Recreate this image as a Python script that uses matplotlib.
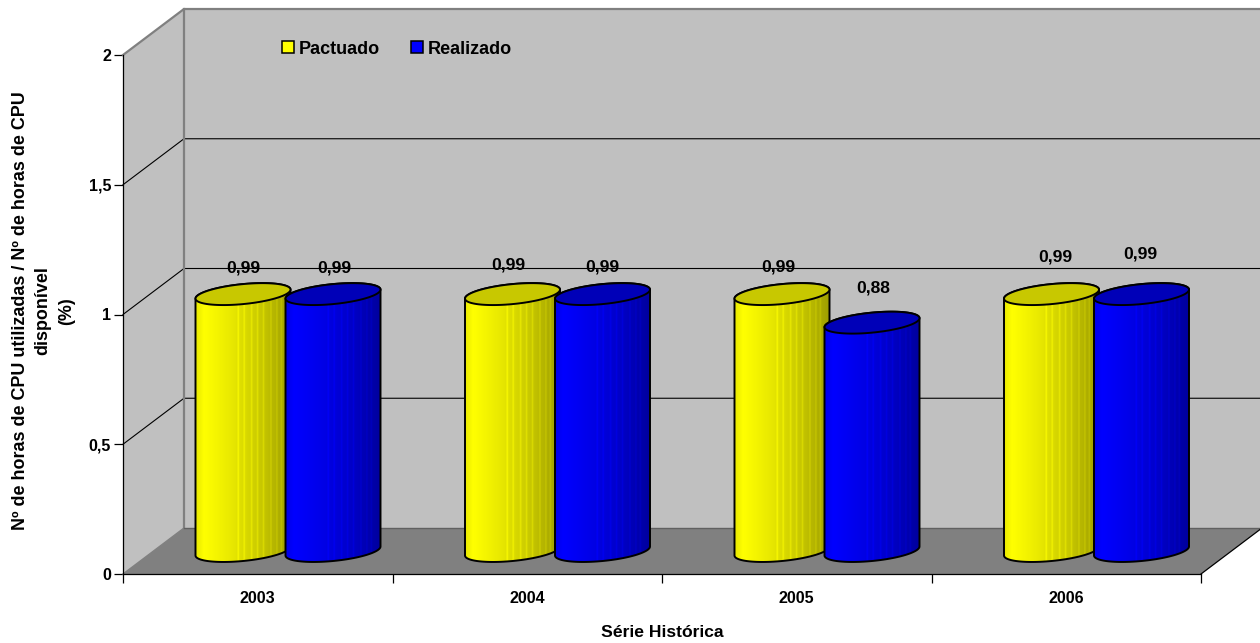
import matplotlib
matplotlib.use("Agg")
import matplotlib.pyplot as plt
import numpy as np
from matplotlib.patches import Polygon, Rectangle

plt.rcParams["font.family"] = ["Liberation Sans", "DejaVu Sans"]
plt.rcParams["font.weight"] = "bold"

years = ["2003", "2004", "2005", "2006"]
pactuado = [0.99, 0.99, 0.99, 0.99]
realizado = [0.99, 0.99, 0.88, 0.99]
y_ticks = [0, 0.5, 1, 1.5, 2]
y_tick_labels = ["0", "0,5", "1", "1,5", "2"]
pactuado_labels = ["0,99", "0,99", "0,99", "0,99"]
realizado_labels = ["0,99", "0,99", "0,88", "0,99"]

# hand placed data labels in the source chart, pixels from the bar centre top
pactuado_offsets = [(0, 26), (-4, 29), (-4, 27), (4, 37)]
realizado_offsets = [(1, 26), (0, 27), (1, 35), (-1, 40)]

W, H = 1260, 643
fig = plt.figure(figsize=(W / 100, H / 100), dpi=100)
left, right, top, bottom = 123, 1201, 55, 574
ax = fig.add_axes([left / W, 1 - bottom / H, (right - left) / W, (bottom - top) / H])
ax.set_xlim(0, 4)
ax.set_ylim(0, 2)
ax.set_autoscale_on(False)

px_x = 4 / (right - left)
px_y = 2 / (bottom - top)
depth_x = 61 * px_x
depth_y = 46 * px_y

# walls and floor
wall_kw = dict(clip_on=False, linewidth=0)
ax.add_patch(Polygon([(depth_x, depth_y), (4 + depth_x, depth_y), (4 + depth_x, 2 + depth_y), (depth_x, 2 + depth_y)],
                     facecolor="#c0c0c0", zorder=1, **wall_kw))
ax.add_patch(Polygon([(0, 0), (depth_x, depth_y), (depth_x, 2 + depth_y), (0, 2)],
                     facecolor="#c0c0c0", zorder=1, **wall_kw))
ax.add_patch(Polygon([(0, 0), (4, 0), (4 + depth_x, depth_y), (depth_x, depth_y)],
                     facecolor="#808080", zorder=1, **wall_kw))

for v in y_ticks[1:-1]:
    ax.plot([0, depth_x, 4 + depth_x], [v, v + depth_y, v + depth_y], color="black", lw=0.8, clip_on=False, zorder=2)
ax.plot([0, depth_x, 4 + depth_x], [2, 2 + depth_y, 2 + depth_y], color="#808080", lw=1.6, clip_on=False, zorder=2)
ax.plot([depth_x, depth_x], [depth_y, 2 + depth_y], color="#808080", lw=1.6, clip_on=False, zorder=2)
ax.plot([0, depth_x], [0, depth_y], color="#808080", lw=1.0, clip_on=False, zorder=2)
ax.plot([depth_x, 4 + depth_x], [depth_y, depth_y], color="#606060", lw=1.0, clip_on=False, zorder=2)
ax.plot([4, 4 + depth_x], [0, depth_y], color="black", lw=0.9, clip_on=False, zorder=2)

bar_w = 95 * px_x
base_y = 23 * px_y
ell_b = 10 * px_y
ell_s = 4.5 * px_y
shade_x = [0, 0.08, 0.35, 0.7, 1]
shade_v = [0.92, 1.0, 0.92, 0.78, 0.62]
streaks = [0.45, 0.52, 0.6, 0.66, 0.72, 0.8, 0.86, 0.92]


def cylinder(x0, value, rgb, top_color, z):
    xc = x0 + bar_w / 2
    t = np.linspace(0, np.pi, 60)
    top_y = base_y + value
    # upper half of the top rim, lower half of the base rim
    up = np.column_stack([xc + bar_w / 2 * np.cos(t), top_y + ell_b * np.sin(t) + ell_s * np.cos(t)])
    low = np.column_stack([xc + bar_w / 2 * np.cos(t + np.pi), base_y - ell_b * np.sin(t) - ell_s * np.cos(t)])
    outline = np.vstack([low, up])
    cols = np.linspace(0, 1, 64)
    shade = np.interp(cols, shade_x, shade_v)
    for s in streaks:
        shade[int(s * 63)] = min(shade[int(s * 63)] * 1.1, 1)
    img = (shade[None, :, None] * np.array(rgb)[None, None, :]).clip(0, 1)
    im = ax.imshow(img, extent=(x0, x0 + bar_w, base_y - 2 * ell_b, top_y + 2 * ell_b),
                   aspect="auto", interpolation="bilinear", zorder=z)
    body = Polygon(outline, closed=True, transform=ax.transData, facecolor="none", edgecolor="black",
                   linewidth=1.4, zorder=z + 0.1, joinstyle="round")
    ax.add_patch(body)
    im.set_clip_path(body)
    t2 = np.linspace(0, 2 * np.pi, 120)
    rim = np.column_stack([xc + bar_w / 2 * np.cos(t2), top_y + ell_b * np.sin(t2) + ell_s * np.cos(t2)])
    ax.add_patch(Polygon(rim, closed=True, facecolor=top_color, edgecolor="black", linewidth=1.4, zorder=z + 0.2))
    return xc, top_y + ell_b


first_gap = 72.5 * px_x
second_gap = first_gap + 90 * px_x
z = 3
for i, yr in enumerate(years):
    xc, ty = cylinder(i + first_gap, pactuado[i], (1, 1, 0), "#c8c800", z)
    ax.annotate(pactuado_labels[i], (xc, ty - ell_b), xytext=pactuado_offsets[i], textcoords="offset pixels",
                ha="center", va="center", fontsize=12.6, zorder=20, annotation_clip=False)
    xc, ty = cylinder(i + second_gap, realizado[i], (0, 0, 1), "#0000b8", z + 1)
    ax.annotate(realizado_labels[i], (xc, ty - ell_b), xytext=realizado_offsets[i], textcoords="offset pixels",
                ha="center", va="center", fontsize=12.6, zorder=20, annotation_clip=False)
    z += 2

for side in ["top", "right"]:
    ax.spines[side].set_visible(False)
for side in ["left", "bottom"]:
    ax.spines[side].set_linewidth(0.9)
    ax.spines[side].set_zorder(30)
ax.patch.set_visible(False)

ax.set_yticks(y_ticks, y_tick_labels)
ax.set_xticks(range(5), [""] * 5)
ax.set_xticks(np.arange(len(years)) + 0.5, years, minor=True)
ax.tick_params(axis="y", length=6.5, width=0.9, labelsize=11.6, pad=2)
ax.tick_params(axis="x", which="major", length=6.5, width=0.9)
ax.tick_params(axis="x", which="minor", length=0, labelsize=11.6, pad=12)
ax.set_xlabel("Série Histórica", fontsize=12.6, fontweight="bold", labelpad=14)
ax.set_ylabel("Nº de horas de CPU utilizadas / Nº de horas de CPU\ndisponível\n(%)",
              fontsize=12.9, fontweight="bold", linespacing=1.47, labelpad=10)
ax.yaxis.label.set_y(0.507)

handles = [Rectangle((0, 0), 1, 1, facecolor="#ffff00", edgecolor="black", linewidth=1.1),
           Rectangle((0, 0), 1, 1, facecolor="#0000ff", edgecolor="black", linewidth=1.1)]
leg = fig.legend(handles, ["Pactuado", "Realizado"], loc="center left", bbox_to_anchor=(282 / W, 1 - 49 / H),
                 ncol=2, frameon=False, fontsize=13, handlelength=0.67, handleheight=0.67,
                 handletextpad=0.25, columnspacing=1.75, borderpad=0, borderaxespad=0)

fig.savefig("out.png", dpi=100)
plt.close(fig)
